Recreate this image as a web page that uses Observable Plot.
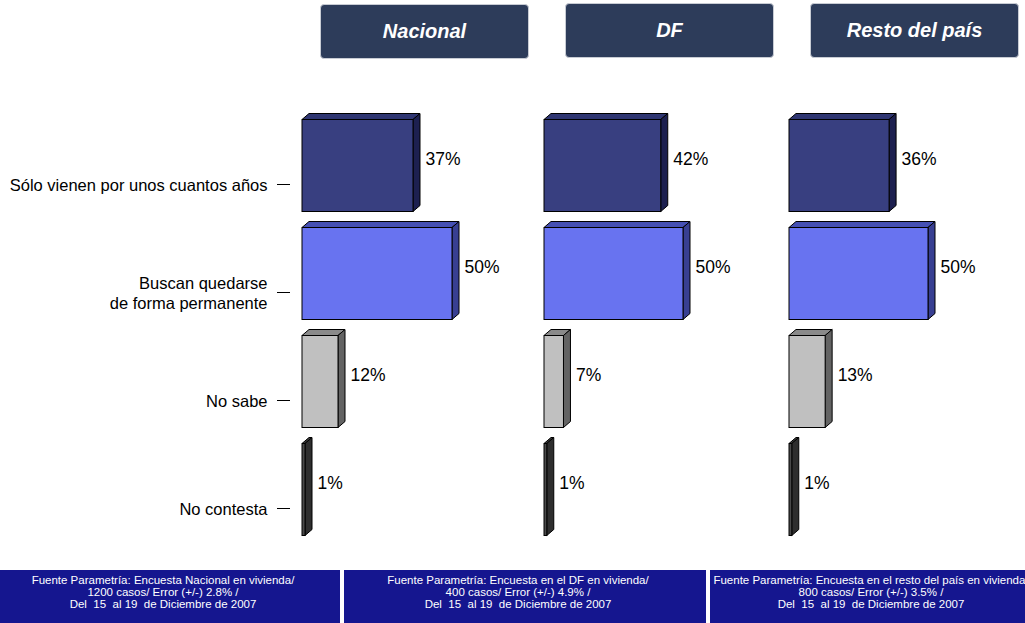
<!DOCTYPE html>
<html><head><meta charset="utf-8">
<script src="https://cdn.jsdelivr.net/npm/d3@7"></script>
<script src="https://cdn.jsdelivr.net/npm/@observablehq/plot@0.6"></script>
<style>
body{margin:0;background:#fff;overflow:hidden}
#page{position:relative;width:1025px;height:623px;overflow:hidden;font-family:"Liberation Sans",Arial,sans-serif;background:#fff}
.hdr{position:absolute;height:55px;width:209px;background:#2d3c5a;border:1px solid #c8ccd4;border-radius:4px;color:#fff;font-weight:bold;font-style:italic;font-size:20px;display:flex;align-items:center;justify-content:center;box-sizing:border-box;z-index:2}
.panel{position:absolute;top:62px}
.foot{position:absolute;top:570px;height:53px;background:#15168f;color:#fff;font-family:"Liberation Sans",Arial,sans-serif;font-size:11.5px;line-height:12px;text-align:center;box-sizing:border-box;padding:4px 14px 0 0;white-space:pre;z-index:2}
</style></head>
<body>
<div id="page"></div>
<script>
// ---- data ----
const categories = ["Sólo vienen por unos cuantos años", "Buscan quedarse\nde forma permanente", "No sabe", "No contesta"];
const panelNames = ["Nacional", "DF", "Resto del país"];
const nacional = [37, 50, 12, 1];
const df = [42, 50, 7, 1];
const resto = [36, 50, 13, 1];
const footLine1 = ["Fuente Parametría: Encuesta Nacional en vivienda/", "Fuente Parametría: Encuesta en el DF en vivienda/", "Fuente Parametría: Encuesta en el resto del país en vivienda/"];
const footLine2 = ["1200 casos/ Error (+/-) 2.8% /", "400 casos/ Error (+/-) 4.9% /", "800 casos/ Error (+/-) 3.5% /"];
const footLine3 = ["Del  15  al 19  de Diciembre de 2007", "Del  15  al 19  de Diciembre de 2007", "Del  15  al 19  de Diciembre de 2007"];

// ---- styles ----
const frontColors = ["#383f80", "#6873f0", "#c0c0c0", "#4a4a4a"];
const topColors = ["#2f3672", "#4550b4", "#8a8a8a", "#3a3a3a"];
const sideColors = ["#1d2050", "#383f92", "#636363", "#2e2e2e"];
const DX = 7, DY = 6;
const fontFamily = '"Liberation Sans", Arial, sans-serif';

const page = document.getElementById("page");
const hdrPos = [[320, 4], [565, 3], [810, 3]];
panelNames.forEach((n, i) => {
  const d = document.createElement("div");
  d.className = "hdr";
  d.style.left = hdrPos[i][0] + "px";
  d.style.top = hdrPos[i][1] + "px";
  d.textContent = n;
  page.appendChild(d);
});

const NS = "http://www.w3.org/2000/svg";
function poly(pts, fill) {
  const p = document.createElementNS(NS, "polygon");
  p.setAttribute("points", pts.map(q => q.join(",")).join(" "));
  p.setAttribute("fill", fill);
  p.setAttribute("stroke", "#000");
  p.setAttribute("stroke-width", 1);
  p.setAttribute("stroke-linejoin", "round");
  return p;
}

function panel(values, o) {
  const rows = categories.map((c, k) => ({cat: c, value: values[k], k}));
  const marks = [];
  if (o.axis) marks.push(Plot.axisY({fontSize: 16.5, tickSize: 13, tickPadding: 10, label: null, lineHeight: 1.2, stroke: "#000", fill: "#000"}));
  marks.push(Plot.barX(rows, {
    x: "value", y: "cat", fill: d => frontColors[d.k], stroke: "#000", strokeWidth: 1, dy: -18.5,
    render(index, scales, vals, dims, ctx, next) {
      const g = next(index, scales, vals, dims, ctx);
      const rects = Array.from(g.querySelectorAll("rect"));
      rects.forEach((r, j) => {
        const k = rows[index[j]].k;
        const x = +r.getAttribute("x"), y = +r.getAttribute("y");
        const w = +r.getAttribute("width"), h = +r.getAttribute("height");
        g.insertBefore(poly([[x, y], [x + DX, y - DY], [x + w + DX, y - DY], [x + w, y]], topColors[k]), r);
        g.insertBefore(poly([[x + w, y], [x + w + DX, y - DY], [x + w + DX, y + h - DY], [x + w, y + h]], sideColors[k]), r);
      });
      return g;
    }
  }));
  marks.push(Plot.text(rows, {x: "value", y: "cat", text: d => d.value + "%", dx: 12, dy: -25, textAnchor: "start", fontSize: 17.5, fill: "#000"}));
  const svg = Plot.plot({
    width: o.width, height: 508,
    marginTop: 0, marginBottom: 0, marginRight: 0, marginLeft: o.marginLeft,
    style: {fontFamily, background: "transparent", overflow: "visible", color: "#000"},
    x: {domain: [0, 50], range: o.xRange, axis: null},
    y: {domain: categories, range: [58.5, 510.5], padding: 0.147, axis: null},
    marks
  });
  svg.classList.add("panel");
  svg.style.left = o.left + "px";
  page.appendChild(svg);
}

panel(nacional, {left: 0, width: 530, marginLeft: 290, xRange: [302, 452], axis: true});
panel(df, {left: 530, width: 245, marginLeft: 0, xRange: [14, 153], axis: false});
panel(resto, {left: 775, width: 250, marginLeft: 0, xRange: [14, 153], axis: false});

const footPos = [[0, 340], [344, 362], [710, 336]];
footPos.forEach((p, i) => {
  const d = document.createElement("div");
  d.className = "foot";
  d.style.left = p[0] + "px";
  d.style.width = p[1] + "px";
  d.textContent = footLine1[i] + "\n" + footLine2[i] + "\n" + footLine3[i];
  page.appendChild(d);
});
</script>
</body></html>
